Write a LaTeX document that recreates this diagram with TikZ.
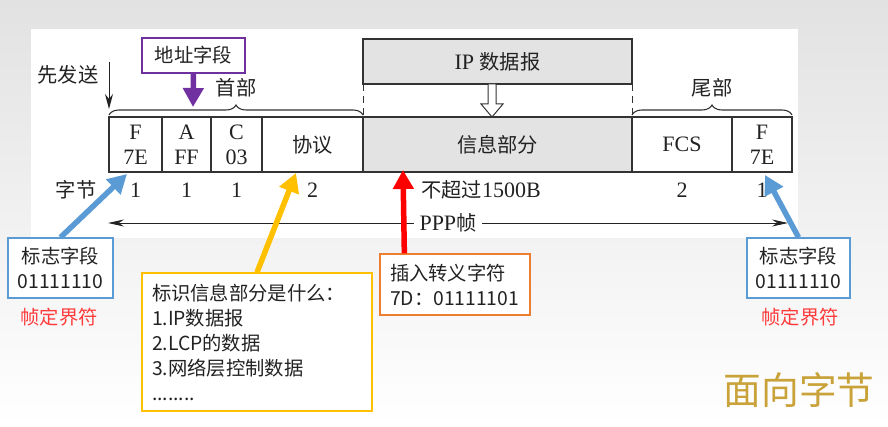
\documentclass[tikz,border=0pt]{standalone}
\usepackage{fontspec}
\setmainfont{Liberation Serif}
\newfontfamily\cjk[Scale=0.92]{Noto Sans CJK SC}
\usetikzlibrary{positioning,arrows.meta,decorations.pathreplacing}

\definecolor{bgtop}{HTML}{E2E2E2}
\definecolor{linegray}{HTML}{333333}
\definecolor{textgray}{HTML}{222222}
\definecolor{boxgray}{HTML}{E3E3E3}
\definecolor{addrpurple}{HTML}{7030A0}
\definecolor{flagblue}{HTML}{5B9BD5}
\definecolor{protoyellow}{HTML}{FFC000}
\definecolor{escorange}{HTML}{ED7D31}
\definecolor{delimred}{HTML}{FF3B3B}
\definecolor{gold}{HTML}{C9A23A}

\tikzset{
  cell/.style={draw=linegray, line width=1.1pt, minimum height=55, inner sep=0pt,
    outer sep=0pt, align=center, text=textgray, font=\fontsize{22}{25}\selectfont},
  bytelabel/.style={text=textgray, inner sep=1pt, font=\fontsize{22}{25}\selectfont},
  callout/.style={draw, line width=1.3pt, fill=white, inner sep=0pt, text=textgray,
    font=\cjk\fontsize{21}{25}\selectfont},
  delimtext/.style={text=delimred, font=\cjk\fontsize{21}{25}\selectfont},
  fatarrow/.style={line width=5.5pt, -{Triangle[length=19pt,width=20pt]}},
  thinarrow/.style={line width=1pt, draw=textgray, -{Stealth[length=15pt,width=8pt]}},
  framebrace/.style={decorate, decoration={brace, amplitude=10pt, raise=2pt},
    line width=1.1pt, draw=linegray}
}

\begin{document}
\begin{tikzpicture}[x=1pt, y=-1pt]

  % Slide background and white panel
  \useasboundingbox (0,0) rectangle (888,427);
  \shade[top color=bgtop, bottom color=white] (0,0) rectangle (888,427);
  \fill[white] (31,29) rectangle (798,238);

  % The PPP frame fields, left to right
  \node[cell, minimum width=53] (fF) at (135.5,144.5) {F\\7E};
  \node[cell, minimum width=49, right=0pt of fF] (fA) {A\\FF};
  \node[cell, minimum width=51, right=0pt of fA] (fC) {C\\03};
  \node[cell, minimum width=101, right=0pt of fC] (proto) {\cjk 协议};
  \node[cell, minimum width=269, fill=boxgray, right=0pt of proto] (info) {\cjk 信息部分};
  \node[cell, minimum width=100, right=0pt of info] (fcs) {FCS};
  \node[cell, minimum width=60, right=0pt of fcs] (fE) {F\\7E};

  % IP datagram above the information field
  \node[cell, minimum width=269, minimum height=45, fill=boxgray, above=33pt of info] (ipdg) {IP {\cjk 数据报}};
  \draw[line width=0.9pt, draw=linegray, dash pattern=on 7pt off 5pt] (ipdg.south west) -- (info.north west);
  \draw[line width=0.9pt, draw=linegray, dash pattern=on 7pt off 5pt] (ipdg.south east) -- (info.north east);

  % Hollow arrow: datagram goes into the frame
  \draw[line width=1pt, draw=linegray, fill=white] (ipdg.south) ++(-9.5,0) -- ++(0,20) -- ++(-7,0)
    -- ++(11,13) -- ++(11,-13) -- ++(-7,0) -- ++(0,-20) -- cycle;

  % Braces for header and trailer
  \draw[framebrace] (fF.north west) -- (proto.north east)
    node[midway, yshift=29pt, bytelabel] (head) {\cjk 首部};
  \draw[framebrace] (fcs.north west) -- (fE.north east)
    node[midway, yshift=29pt, bytelabel] (tail) {\cjk 尾部};

  % Sent first
  \node[bytelabel] (send) at (68,75) {\cjk 先发送};
  \coordinate (sendtop) at (109,62);
  \coordinate (sendtip) at (109,109);
  \draw[thinarrow] (sendtop) -- (sendtip);

  % Byte counts under the fields
  \coordinate (byteline) at (0,190);
  \node[bytelabel] (zj) at (76,190) {\cjk 字节};
  \node[bytelabel] (nF) at (fF |- byteline) {1};
  \node[bytelabel] (nA) at (fA |- byteline) {1};
  \node[bytelabel] (nC) at (fC |- byteline) {1};
  \node[bytelabel] (nP) at (proto |- byteline) {2};
  \node[bytelabel] (nI) at (481,190) {{\cjk 不超过}1500B};
  \node[bytelabel] (nS) at (fcs |- byteline) {2};
  \node[bytelabel] (nE) at (fE |- byteline) {1};

  % Whole frame length
  \coordinate (pppL) at (108,223);
  \coordinate (pppR) at (788,223);
  \draw[line width=0.9pt, draw=textgray, {Stealth[length=16pt,width=7pt]}-{Stealth[length=16pt,width=7pt]}]
    (pppL) -- node[bytelabel, fill=white, inner xsep=6pt] (ppp) {PPP{\cjk 帧}} (pppR);

  % Callout boxes
  \node[callout, draw=addrpurple, minimum width=103, minimum height=35] (addr) at (193.5,55.5) {地址字段};
  \node[callout, draw=flagblue, minimum width=105, minimum height=60, align=center] (flagL) at (60.5,268) {标志字段\\01111110};
  \node[delimtext] (delimL) at (59,317) {帧定界符};
  \node[callout, draw=flagblue, minimum width=103, minimum height=60, align=center] (flagR) at (798.5,268) {标志字段\\01111110};
  \node[delimtext] (delimR) at (800,317) {帧定界符};
  \node[callout, draw=protoyellow, text width=210, minimum height=138, inner xsep=10pt, align=left] (protobox) at (257,342)
    {标识信息部分是什么：\\1.IP数据报\\2.LCP的数据\\3.网络层控制数据\\........};
  \node[callout, draw=escorange, text width=130, minimum height=61, inner xsep=10pt, align=left] (escbox) at (455,284.5)
    {插入转义字符\\7D：01111101};

  % Coloured pointers
  \coordinate (addrtip) at (193,107);
  \coordinate (tipL) at (127,174);
  \coordinate (tipR) at (765,175);
  \coordinate (tipP) at (296,173);
  \coordinate (tipE) at (403,170);
  \draw[fatarrow, addrpurple] (addr.south) -- (addrtip);
  \draw[fatarrow, flagblue] (flagL.north) -- (tipL);
  \draw[fatarrow, flagblue] (flagR.north) -- (tipR);
  \draw[fatarrow, protoyellow] (protobox.north) -- (tipP);
  \draw[fatarrow, red] ([xshift=25pt]escbox.north west) -- (tipE);

  % Slide title
  \node[text=gold, font=\cjk\fontsize{41}{41}\selectfont] (face) at (799,390) {面向字节};

\end{tikzpicture}
\end{document}
